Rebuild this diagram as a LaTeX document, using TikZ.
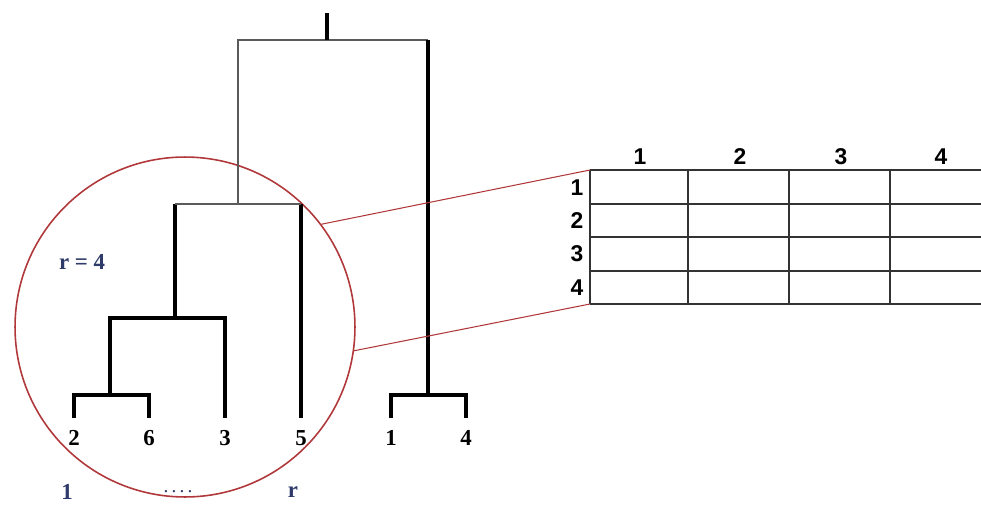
\documentclass[tikz,border=0pt]{standalone}
\usepackage{fontspec}
\setmainfont{Liberation Serif}
\setsansfont{Liberation Sans}
\usetikzlibrary{positioning}
\definecolor{lens}{HTML}{B0383A}
\definecolor{note}{HTML}{2E3A6A}
\definecolor{upper}{HTML}{5A5A5A}
\definecolor{grid}{HTML}{333333}

\begin{document}
\begin{tikzpicture}[x=0.02cm, y=-0.02cm,
    branch/.style={line width=1.9pt, black},
    thinbranch/.style={line width=1.2pt, upper},
    leaflab/.style={font=\bfseries\fontsize{13}{15}\selectfont, inner sep=0pt},
    notelab/.style={text=note, font=\bfseries\fontsize{13}{15}\selectfont, inner sep=0pt},
    tablab/.style={font=\sffamily\bfseries\fontsize{13}{15}\selectfont, inner sep=0pt},
    gridline/.style={line width=0.9pt, grid},
    zoomline/.style={line width=0.6pt, lens}
  ]
    \useasboundingbox (0,0) rectangle (981,514);

    % leaves of the dendrogram
    \foreach \name/\x in {2/74, 6/149, 3/225, 5/301, 1/391, 4/466} {
      \coordinate (t\name) at (\x,418);
      \node[leaflab] (l\name) at (\x,438) {\name};
    }

    % merge points
    \coordinate (m26)   at (110,395);
    \coordinate (m263)  at (175,318);
    \coordinate (m2635) at (238,204);
    \coordinate (m14)   at (428,395);
    \coordinate (root)  at (327,40);
    \coordinate (stem)  at (327,13);

    % magnifying circle
    \node[draw=lens, line width=0.9pt, circle, minimum size=6.8cm, inner sep=0pt]
      (zoom) at (185,327) {};

    \draw[branch] (t2) |- (m26) -| (t6);
    \draw[branch] (m26) |- (m263) -| (t3);
    \draw[branch] (m263) -- (m263 |- m2635);
    \draw[branch] (t5) -- (t5 |- m2635);
    \draw[thinbranch] (m263 |- m2635) -- (t5 |- m2635);
    \draw[branch] (t1) |- (m14) -| (t4);
    \draw[thinbranch] (m2635) |- (root) -- (m14 |- root);
    \draw[branch] (m14 |- root) -- (m14);
    \draw[branch] (root) -- (stem);

    \node[notelab] (rval)  at (82,262)  {r = 4};
    \node[notelab] (first) at (67,492)  {1};
    \node[notelab, font=\fontsize{11}{13}\selectfont] (dots) at (178,492) {.\,.\,.\,.};
    \node[notelab] (last)  at (293,492) {r};

    % the r x r table
    \foreach \y in {170,204,237,271,304}
      \draw[gridline] (590,\y) -- (981,\y);
    \foreach \x in {590,688,789,890}
      \draw[gridline] (\x,170) -- (\x,304);
    \foreach \i/\x in {1/640, 2/740, 3/841, 4/941}
      \node[tablab] (c\i) at (\x,157) {\i};
    \foreach \i/\y in {1/188, 2/221, 3/254, 4/288}
      \node[tablab] (r\i) at (577,\y) {\i};

    \coordinate (tabNW) at (590,170);
    \coordinate (tabSW) at (590,304);
    \draw[zoomline] (zoom.37) -- (tabNW);
    \draw[zoomline] (zoom.-8) -- (tabSW);
  \end{tikzpicture}
\end{document}
